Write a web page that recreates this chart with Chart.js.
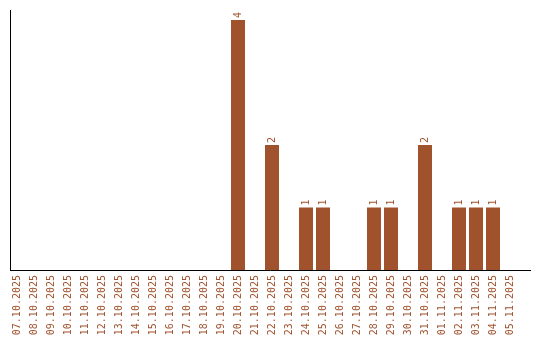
<!DOCTYPE html>
<html>
<head>
<meta charset="utf-8">
<script src="https://cdn.jsdelivr.net/npm/chart.js@4.4.1/dist/chart.umd.min.js"></script>
<style>
  html, body { margin: 0; padding: 0; background: #fff; }
  #wrap { width: 540px; height: 340px; }
</style>
</head>
<body>
<div id="wrap"><canvas id="c"></canvas></div>
<script>
const days = [
    '07.10.2025', '08.10.2025', '09.10.2025', '10.10.2025', '11.10.2025', '12.10.2025',
    '13.10.2025', '14.10.2025', '15.10.2025', '16.10.2025', '17.10.2025', '18.10.2025',
    '19.10.2025', '20.10.2025', '21.10.2025', '22.10.2025', '23.10.2025', '24.10.2025',
    '25.10.2025', '26.10.2025', '27.10.2025', '28.10.2025', '29.10.2025', '30.10.2025',
    '31.10.2025', '01.11.2025', '02.11.2025', '03.11.2025', '04.11.2025', '05.11.2025'
];
const counts = [0, 0, 0, 0, 0, 0, 0, 0, 0, 0, 0, 0, 0, 4, 0, 2, 0, 1, 1, 0, 0, 1, 1, 0, 2, 0, 1, 1, 1, 0];

const brown = '#a0522d';
const mono = 'DejaVu Sans Mono';

// category slots are 17px wide, the first one starts a bit left of the y axis line
const slot = 17;
const firstCenter = 7;

const stretchX = {
    id: 'stretchX',
    afterLayout(chart) {
        const x = chart.scales.x;
        x._startValue = -firstCenter / slot;
        x._valueRange = x.width / slot;
    }
};

// value labels written vertically above each bar
const valueLabels = {
    id: 'valueLabels',
    afterDatasetsDraw(chart) {
        const ctx = chart.ctx;
        const meta = chart.getDatasetMeta(0);
        ctx.save();
        ctx.fillStyle = brown;
        ctx.font = '10px ' + mono;
        ctx.textAlign = 'left';
        ctx.textBaseline = 'middle';
        meta.data.forEach((bar, i) => {
            if (!counts[i]) return;
            ctx.save();
            ctx.translate(Math.round(bar.x), bar.y - 2);
            ctx.rotate(-Math.PI / 2);
            ctx.fillText(String(counts[i]), 0, 0);
            ctx.restore();
        });
        ctx.restore();
    }
};

new Chart(document.getElementById('c'), {
    type: 'bar',
    data: {
        labels: days,
        datasets: [{ data: counts, backgroundColor: brown, barPercentage: 14 / 17, categoryPercentage: 1 }]
    },
    options: {
        responsive: true,
        maintainAspectRatio: false,
        animation: false,
        layout: { padding: { left: 10, top: 10, right: 10, bottom: 0 } },
        plugins: { legend: { display: false }, tooltip: { enabled: false } },
        scales: {
            x: {
                grid: { display: false, drawTicks: false },
                border: { display: true, color: '#000', width: 1 },
                ticks: {
                    color: brown, font: { family: mono, size: 10 },
                    minRotation: 90, maxRotation: 90, autoSkip: false, padding: 5
                },
                afterFit(scale) { scale.height = 70; }
            },
            y: {
                min: 0, max: 4.16,
                grid: { display: false, drawTicks: false },
                border: { display: true, color: '#000', width: 1 },
                ticks: { display: false },
                afterFit(scale) { scale.width = 0; }
            }
        }
    },
    plugins: [stretchX, valueLabels]
});
</script>
</body>
</html>
